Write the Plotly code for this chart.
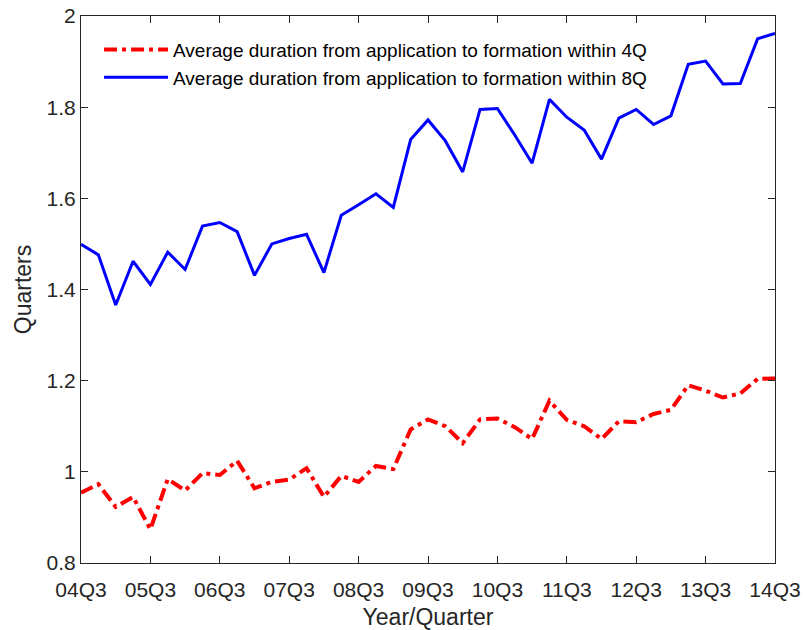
import plotly.graph_objects as go

# Quarter labels 04Q3 .. 14Q3
quarters = []
yr, q = 4, 3
for _ in range(41):
    quarters.append(f"{yr:02d}Q{q}")
    q += 1
    if q > 4:
        q = 1
        yr += 1

tick_labels = ["04Q3", "05Q3", "06Q3", "07Q3", "08Q3", "09Q3",
               "10Q3", "11Q3", "12Q3", "13Q3", "14Q3"]

within_4q = [0.954, 0.973, 0.923, 0.945, 0.874, 0.984, 0.959, 0.997, 0.993, 1.024,
             0.964, 0.978, 0.983, 1.008, 0.945, 0.991, 0.978, 1.013, 1.006, 1.093,
             1.115, 1.100, 1.063, 1.115, 1.117, 1.098, 1.072, 1.156, 1.114, 1.100,
             1.072, 1.111, 1.109, 1.127, 1.136, 1.190, 1.178, 1.163, 1.172, 1.204,
             1.205]

within_8q = [1.499, 1.476, 1.366, 1.462, 1.411, 1.482, 1.444, 1.539, 1.547, 1.527,
             1.431, 1.500, 1.512, 1.521, 1.437, 1.563, 1.586, 1.610, 1.580, 1.729,
             1.772, 1.726, 1.658, 1.795, 1.797, 1.739, 1.677, 1.817, 1.778, 1.750,
             1.686, 1.776, 1.795, 1.762, 1.781, 1.894, 1.901, 1.851, 1.852, 1.950,
             1.962]

name_4q = "Average duration from application to formation within 4Q"
name_8q = "Average duration from application to formation within 8Q"

FONT = "Liberation Sans, Arial, sans-serif"
AXC = "#262626"

fig = go.Figure()
fig.add_trace(go.Scatter(x=quarters, y=within_4q, mode="lines", name=name_4q,
                         line=dict(color="#ff0000", width=4, dash="13px,5px,4px,5px")))
fig.add_trace(go.Scatter(x=quarters, y=within_8q, mode="lines", name=name_8q,
                         line=dict(color="#0000ff", width=3)))

fig.update_layout(
    width=804, height=630,
    margin=dict(l=81, r=29, t=16, b=67, autoexpand=False),
    paper_bgcolor="white", plot_bgcolor="white",
    font=dict(family=FONT, color=AXC),
    legend=dict(x=0.026, y=0.973, xanchor="left", yanchor="top",
                bgcolor="rgba(255,255,255,0)", borderwidth=0,
                font=dict(size=19, color="#000000"), itemwidth=64,
                tracegroupgap=0),
    showlegend=True,
)

fig.update_xaxes(
    type="category",
    categoryorder="array", categoryarray=quarters,
    range=[0, 40],
    tickmode="array",
    tickvals=tick_labels,
    ticktext=tick_labels,
    ticks="inside", ticklen=7, tickcolor=AXC, tickwidth=1,
    ticklabelstandoff=8,
    showline=True, linecolor=AXC, linewidth=1, mirror="ticks",
    showgrid=False, zeroline=False, automargin=False,
    tickfont=dict(size=21, color=AXC),
    title=dict(text="Year/Quarter", font=dict(size=23, color=AXC), standoff=8),
)
fig.update_yaxes(
    range=[0.8, 2.0],
    tickmode="array",
    tickvals=[0.8, 1.0, 1.2, 1.4, 1.6, 1.8, 2.0],
    ticktext=["0.8", "1", "1.2", "1.4", "1.6", "1.8", "2"],
    ticks="inside", ticklen=7, tickcolor=AXC, tickwidth=1,
    showline=True, linecolor=AXC, linewidth=1, mirror="ticks",
    showgrid=False, zeroline=False, automargin=False,
    tickfont=dict(size=21, color=AXC),
    title=dict(text="Quarters", font=dict(size=23, color=AXC), standoff=8),
)

fig.write_html("out.html")
